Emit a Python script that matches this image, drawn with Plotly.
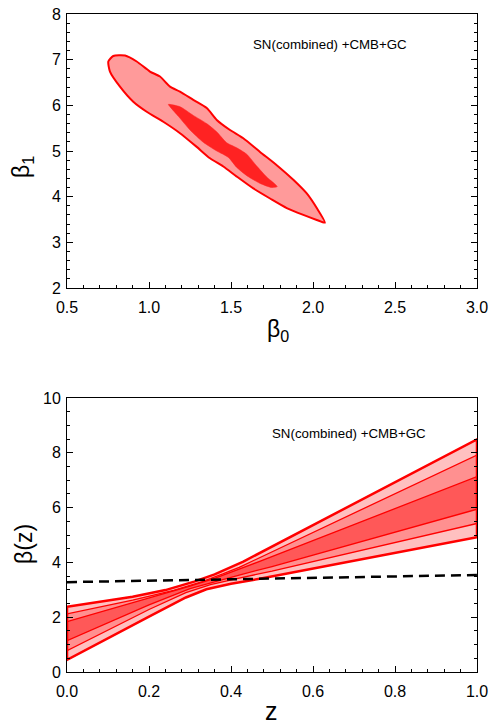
import plotly.graph_objects as go

# ---- Top panel: 2D confidence contours (beta0, beta1) ----
outer_b0 = [0.752, 0.782, 0.854, 0.925, 1.006, 1.067, 1.128, 1.189, 1.270, 1.352, 1.413, 1.494, 1.575,
            1.677, 1.779, 1.880, 1.962, 2.023, 2.073, 2.023, 1.941, 1.840, 1.738, 1.636, 1.535, 1.453,
            1.372, 1.291, 1.189, 1.087, 0.986, 0.904, 0.823, 0.762, 0.752]
outer_b1 = [6.96, 7.08, 7.09, 6.96, 6.74, 6.63, 6.41, 6.30, 6.12, 5.94, 5.68, 5.46, 5.28,
            4.98, 4.69, 4.37, 4.07, 3.75, 3.43, 3.49, 3.60, 3.75, 3.96, 4.18, 4.44, 4.66,
            4.84, 5.09, 5.39, 5.64, 5.86, 6.08, 6.41, 6.74, 6.96]
inner_b0 = [1.118, 1.189, 1.270, 1.352, 1.413, 1.474, 1.535, 1.596, 1.657, 1.718, 1.782, 1.748, 1.677,
            1.596, 1.535, 1.484, 1.413, 1.331, 1.250, 1.179, 1.130, 1.118]
inner_b1 = [6.02, 5.97, 5.78, 5.60, 5.42, 5.18, 5.07, 4.93, 4.67, 4.43, 4.22, 4.20, 4.29,
            4.46, 4.64, 4.86, 5.00, 5.19, 5.46, 5.76, 5.96, 6.02]

# ---- Bottom panel: beta(z) bands ----
top_z = [0.0, 0.08, 0.16, 0.24, 0.31, 0.36, 0.40, 0.43, 1.0]
top_y = [2.38, 2.56, 2.75, 2.99, 3.30, 3.56, 3.82, 4.03, 8.49]
l2_z = [0.0, 0.16, 0.26, 0.33, 0.38, 0.42, 1.0]
l2_y = [2.12, 2.62, 2.98, 3.30, 3.58, 3.82, 7.92]
l3_z = [0.0, 0.20, 0.30, 0.36, 0.42, 0.47, 1.0]
l3_y = [1.84, 2.70, 3.13, 3.42, 3.76, 4.04, 7.13]
l4_z = [0.0, 0.20, 0.30, 0.36, 0.42, 0.50, 1.0]
l4_y = [1.14, 2.45, 3.04, 3.30, 3.54, 3.85, 5.94]
l5_z = [0.0, 0.20, 0.29, 0.35, 0.42, 0.50, 1.0]
l5_y = [0.78, 2.28, 2.90, 3.19, 3.43, 3.68, 5.42]
bot_z = [0.0, 0.20, 0.29, 0.34, 0.40, 0.47, 1.0]
bot_y = [0.44, 2.02, 2.72, 3.02, 3.22, 3.40, 4.92]
dash_z = [0.0, 1.0]
dash_y = [3.28, 3.54]

label = "SN(combined) +CMB+GC"

RED = "#FF0000"
FONT = "Arial, Liberation Sans, Helvetica, sans-serif"

fig = go.Figure()

# top panel
fig.add_trace(go.Scatter(x=outer_b0, y=outer_b1, mode="lines", fill="toself",
                         fillcolor="#FF9A9A", line=dict(color=RED, width=2, shape="spline", smoothing=0.6),
                         xaxis="x", yaxis="y", showlegend=False, hoverinfo="skip"))
fig.add_trace(go.Scatter(x=inner_b0, y=inner_b1, mode="lines", fill="toself",
                         fillcolor="#FF2222", line=dict(color="#FF2222", width=0.5, shape="spline", smoothing=0.6),
                         xaxis="x", yaxis="y", showlegend=False, hoverinfo="skip"))

# bottom panel bands
def band(za, ya, zb, yb, color):
    fig.add_trace(go.Scatter(x=list(za) + list(zb)[::-1], y=list(ya) + list(yb)[::-1],
                             mode="lines", fill="toself", fillcolor=color,
                             line=dict(width=0, color=color),
                             xaxis="x2", yaxis="y2", showlegend=False, hoverinfo="skip"))

band(top_z, top_y, bot_z, bot_y, "#FFC0C0")
band(l2_z, l2_y, l5_z, l5_y, "#FF9090")
band(l3_z, l3_y, l4_z, l4_y, "#FF5858")

for zz, yy in [(l2_z, l2_y), (l3_z, l3_y), (l4_z, l4_y), (l5_z, l5_y)]:
    fig.add_trace(go.Scatter(x=zz, y=yy, mode="lines", line=dict(color=RED, width=1.3),
                             xaxis="x2", yaxis="y2", showlegend=False, hoverinfo="skip"))
# outer boundary (closed)
fig.add_trace(go.Scatter(x=list(top_z) + list(bot_z)[::-1] + [top_z[0]],
                         y=list(top_y) + list(bot_y)[::-1] + [top_y[0]],
                         mode="lines", line=dict(color=RED, width=2.5),
                         xaxis="x2", yaxis="y2", showlegend=False, hoverinfo="skip"))
fig.add_trace(go.Scatter(x=dash_z, y=dash_y, mode="lines",
                         line=dict(color="black", width=2.5, dash="10px,6px"),
                         xaxis="x2", yaxis="y2", showlegend=False, hoverinfo="skip"))

tickfont = dict(family=FONT, size=16, color="black")

def ax(rng, dtick, mdtick, domain, anchor, fmt, ylike=False):
    d = dict(range=rng, dtick=dtick, tick0=rng[0], domain=domain, anchor=anchor,
             automargin=False,
             showgrid=False, zeroline=False, showline=True, linecolor="black", linewidth=1,
             ticks="inside", ticklen=6, tickwidth=1, tickcolor="black",
             tickfont=tickfont, tickformat=fmt,
             minor=dict(ticks="inside", ticklen=3, dtick=mdtick, tickcolor="black", tickwidth=1, showgrid=False),
             mirror="allticks" if ylike else True)
    return d

fig.update_layout(
    width=490, height=725,
    margin=dict(l=67, r=13, t=14, b=53),
    paper_bgcolor="white", plot_bgcolor="white",
    font=dict(family=FONT, color="black"),
    xaxis=ax([0.5, 3.0], 0.5, 0.1, [0, 1], "y", ".1f"),
    yaxis=ax([2, 8], 1, 0.2, [0.5836, 1.0], "x", "d", ylike=True),
    xaxis2=ax([0, 1.0], 0.2, 0.04, [0, 1], "y2", ".1f"),
    yaxis2=ax([0, 10], 2, 0.5, [0, 0.4164], "x2", "d", ylike=True),
)
fig.update_xaxes(ticklabelstandoff=5)
fig.update_yaxes(ticklabelstandoff=2)

annotations = [
    dict(text=label, x=330, y=45, font=dict(size=13.3)),
    dict(text=label, x=349, y=433, font=dict(size=13.3)),
    dict(text="β<sub>1</sub>", x=23, y=167, font=dict(size=23), textangle=-90),
    dict(text="β<sub>0</sub>", x=278, y=330, font=dict(size=23)),
    dict(text="β(z)", x=24, y=544, font=dict(size=23), textangle=-90),
    dict(text="z", x=271, y=711, font=dict(size=25)),
]
for a in annotations:
    px, py = a.pop("x"), a.pop("y")
    f = a.pop("font")
    f.update(family=FONT, color="black")
    fig.add_annotation(x=(px - 67) / 410, y=(672 - py) / 658, xref="paper", yref="paper",
                       xanchor="center", yanchor="middle", showarrow=False, font=f, **a)

fig.write_html("out.html",
               config={"displayModeBar": False, "responsive": False},
               post_script="document.body.style.margin='0px';document.body.style.padding='0px';"
                           "document.documentElement.style.overflow='hidden';")
